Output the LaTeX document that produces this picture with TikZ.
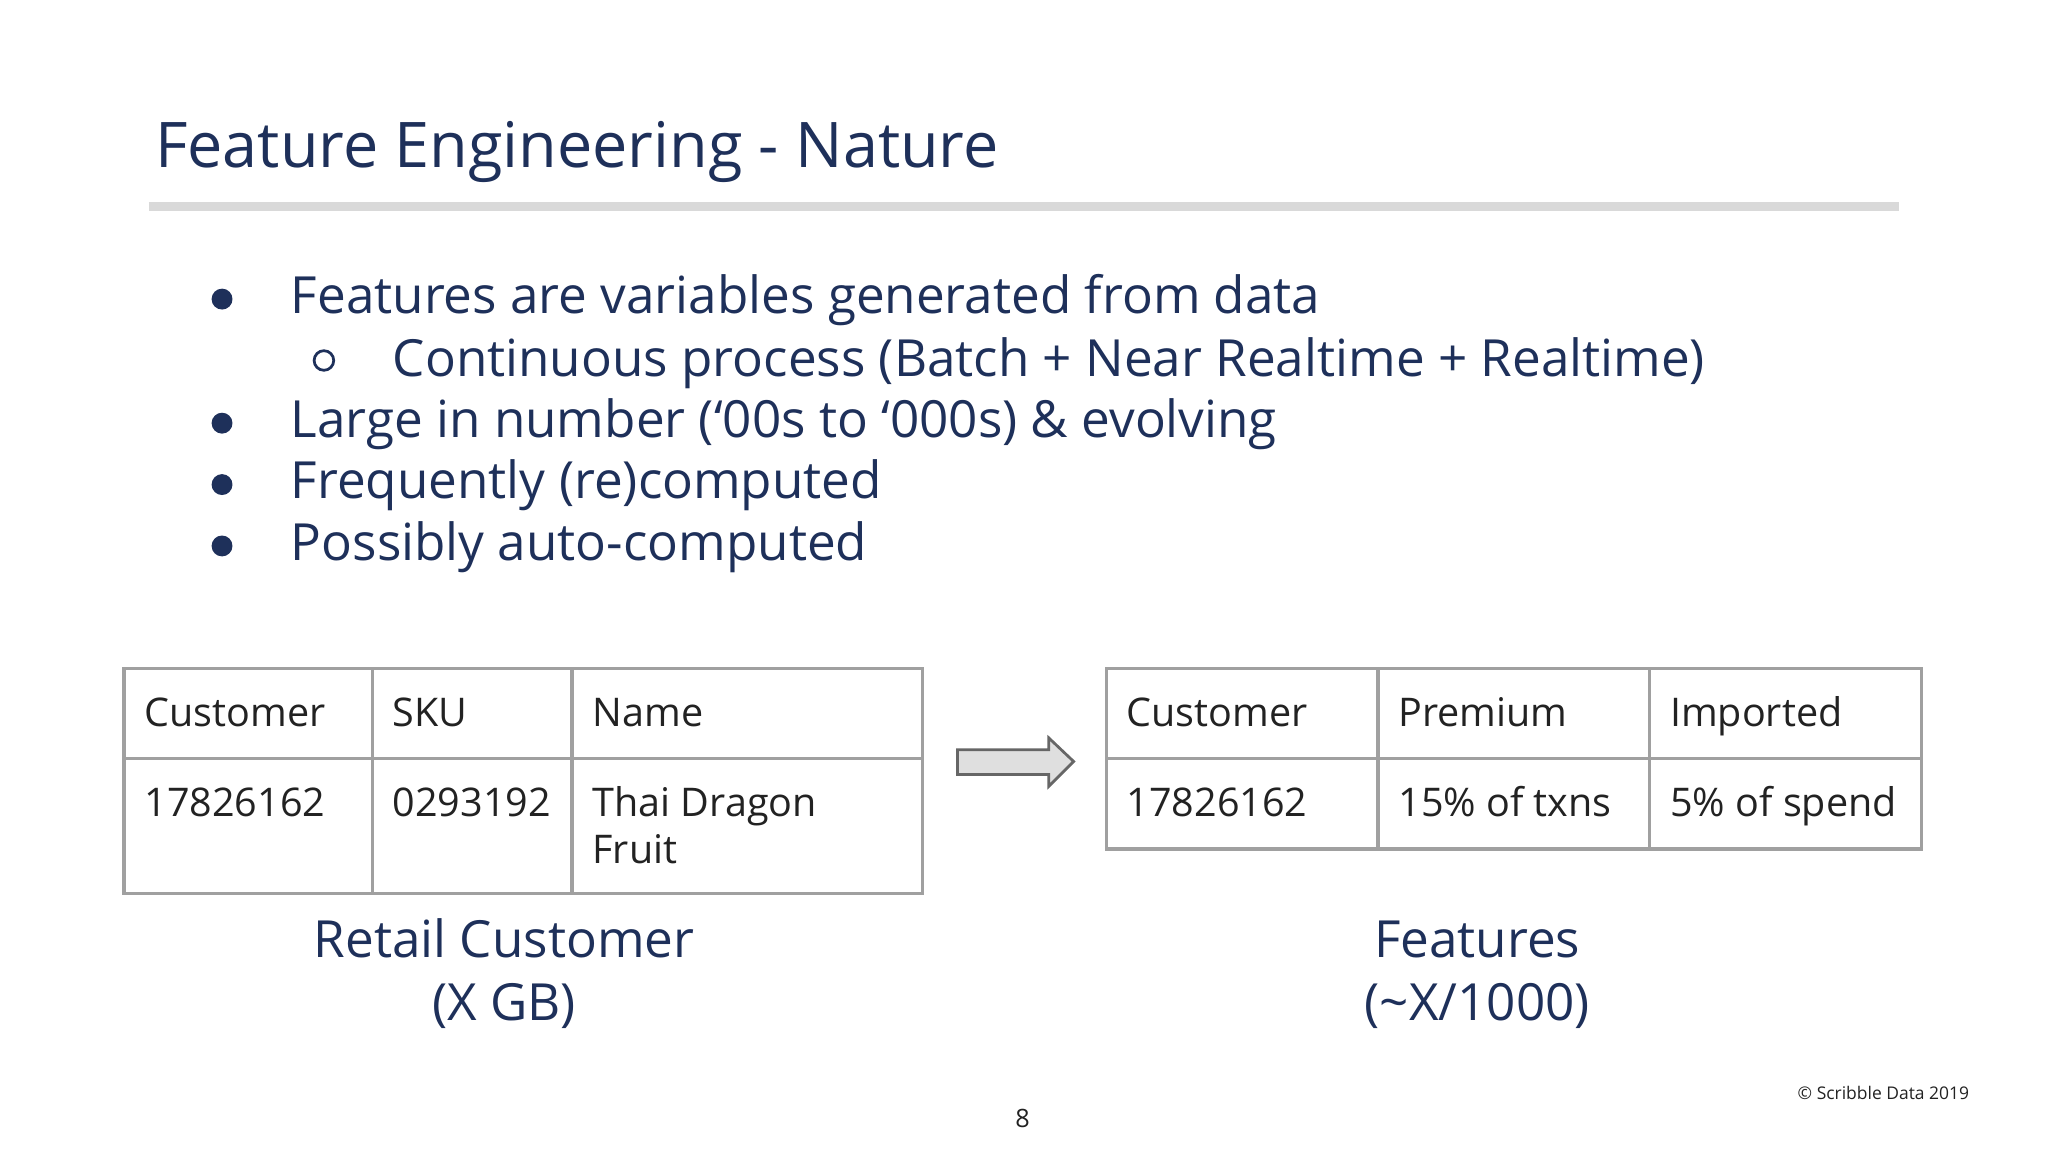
\documentclass[tikz,border=0pt]{standalone}
\usepackage{fontspec}
\setmainfont{Open Sans}
\definecolor{navy}{RGB}{30,48,90}
\definecolor{rule}{RGB}{217,217,217}
\definecolor{tline}{RGB}{160,160,160}
\definecolor{ttext}{RGB}{34,34,34}
\begin{document}
\begin{tikzpicture}[x=0.01cm,y=-0.01cm,
  txt/.style={anchor=base west,inner sep=0pt,text=navy,font=\fontsize{11.15}{14}\selectfont},
  cell/.style={anchor=base west,inner sep=0pt,text=ttext,font=\fontsize{8.6}{11}\selectfont},
  captxt/.style={anchor=base,inner sep=0pt,text=navy,font=\fontsize{11.15}{14}\selectfont},
  tab/.style={draw=tline,line width=0.7pt}]
\useasboundingbox (0,0) rectangle (1568,882);
\node[anchor=base west,inner sep=0pt,text=navy,font=\fontsize{13.7}{17}\selectfont] (title) at (118,128) {Feature Engineering - Nature};
\draw[rule,line width=2pt] (114,158) coordinate (r1) -- (1454,158) coordinate (r2);
\foreach \y/\n in {240/b1,335/b2,382/b3,429/b4}{\fill[navy] (170,\y-11) circle (8);}
\draw[navy,line width=0.6pt] (248,276) circle (7.5);
\node[txt] (t1) at (222,240) {Features are variables generated from data};
\node[txt] (t2) at (300,288) {Continuous process (Batch + Near Realtime + Realtime)};
\node[txt] (t3) at (222,335) {Large in number (‘00s to ‘000s) \& evolving};
\node[txt] (t4) at (222,382) {Frequently (re)computed};
\node[txt] (t5) at (222,429) {Possibly auto-computed};
% table 1
\draw[tab] (95,512) rectangle (706,684);
\draw[tab] (95,581) -- (706,581) (285,512) -- (285,684) (438,512) -- (438,684);
\node[cell] (a1) at (110,556) {Customer};
\node[cell] (a2) at (300,556) {SKU};
\node[cell] (a3) at (453,556) {Name};
\node[cell] (a4) at (110,625) {17826162};
\node[cell] (a5) at (300,625) {0293192};
\node[cell] (a6) at (453,625) {Thai Dragon};
\node[cell] (a7) at (453,661) {Fruit};
% table 2
\draw[tab] (847,512) rectangle (1471,650);
\draw[tab] (847,581) -- (1471,581) (1055,512) -- (1055,650) (1263,512) -- (1263,650);
\node[cell] (c1) at (862,556) {Customer};
\node[cell] (c2) at (1070,556) {Premium};
\node[cell] (c3) at (1278,556) {Imported};
\node[cell] (c4) at (862,625) {17826162};
\node[cell] (c5) at (1070,625) {15\% of txns};
\node[cell] (c6) at (1278,625) {5\% of spend};
% arrow
\draw[draw=gray!80!black,fill=gray!25,line width=0.6pt] (733,574) -- (803,574) -- (803,565) -- (822,583) -- (803,602) -- (803,593) -- (733,593) -- cycle;
\node[captxt] (l1) at (386,733) {Retail Customer};
\node[captxt] (l2) at (386,781) {(X GB)};
\node[captxt] (l3) at (1131,733) {Features};
\node[captxt] (l4) at (1131,781) {(\textasciitilde X/1000)};
\node[anchor=base,inner sep=0pt,text=ttext,font=\fontsize{5.5}{7}\selectfont] (pg) at (783,863) {8};
\node[anchor=base,inner sep=0pt,text=ttext,font=\fontsize{3.8}{5}\selectfont] (cr) at (1442,842) {© Scribble Data 2019};
\end{tikzpicture}
\end{document}
